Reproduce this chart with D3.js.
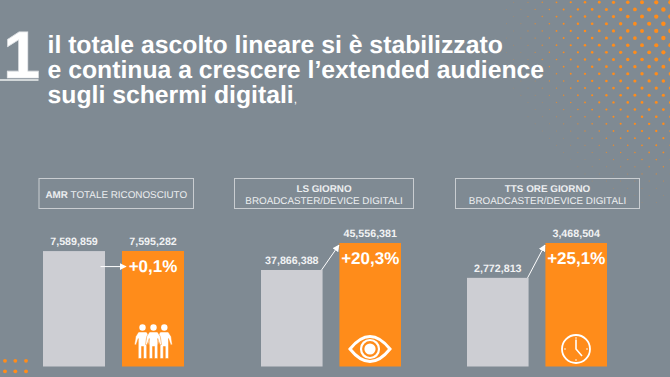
<!DOCTYPE html>
<html>
<head>
<meta charset="utf-8">
<script src="https://cdn.jsdelivr.net/npm/d3@7"></script>
<style>
  html, body { margin: 0; padding: 0; background: #7f8a93; }
  svg { display: block; }
  text { font-family: "Liberation Sans", Arial, sans-serif; text-rendering: geometricPrecision; }
</style>
</head>
<body>
<div id="chart"></div>
<script>
// values
const periods = ["prima", "dopo"]
const amrValues = [7589859, 7595282]
const lsValues = [37866388, 45556381]
const ttsValues = [2772813, 3468504]
const deltaLabels = ["+0,1%", "+20,3%", "+25,1%"]
const boxBold = ["AMR", "LS GIORNO", "TTS ORE GIORNO"]
const boxPlain = ["TOTALE RICONOSCIUTO", "BROADCASTER/DEVICE DIGITALI", "BROADCASTER/DEVICE DIGITALI"]
const titleLines = ["il totale ascolto lineare si è stabilizzato", "e continua a crescere l’extended audience", "sugli schermi digitali"]

const width = 670, height = 377
const orange = "#ff8c1a", grey = "#cdced3", white = "#ffffff", soft = "#f1f2f3", bg = "#7f8a93"

const svg = d3.select("#chart").append("svg")
    .attr("width", width)
    .attr("height", height)

svg.append("rect").attr("width", width).attr("height", height).attr("fill", bg)

// -----------------------------------------------------------------------------
// halftone top right, just decoration
const stepX = 14.25, stepY = 7.15
const halftone = []
for (let row = 0; row < 34; row++) {
  for (let col = 0; col < 16; col++) {
    const x = 670.5 - col * stepX - (row % 2 ? 7.1 : 0)
    const y = 2.3 + row * stepY
    const d = Math.hypot(x - 690, y - 20)
    const r = 2.6 * (1 - d / 205)
    if (r > 0.2) halftone.push({x: x, y: y, r: r})
  }
}
svg.append("g").selectAll("circle").data(halftone).join("circle")
    .attr("cx", d => d.x)
    .attr("cy", d => d.y)
    .attr("r", d => Math.max(d.r, 0.45))
    .attr("fill", orange)
    .attr("opacity", d => Math.min(1, 0.2 + d.r * 0.8))

// bottom left dots
const cornerX = [5, 15.3, 26], cornerY = [360.8, 371.3]
cornerY.forEach(y => cornerX.forEach(x => {
  svg.append("circle").attr("cx", x).attr("cy", y).attr("r", 1.9).attr("fill", orange)
}))

// -----------------------------------------------------------------------------
// title
svg.append("text")
    .attr("x", 3).attr("y", 78)
    .attr("font-size", 67).attr("font-weight", "bold")
    .attr("fill", white).attr("stroke", "#dfe2e5").attr("stroke-width", 0.6)
    .text("1")
svg.append("line")
    .attr("x1", 0).attr("x2", 38.5).attr("y1", 80).attr("y2", 80)
    .attr("stroke", "#eef0f1").attr("stroke-width", 1.6)

const titleText = svg.append("text")
    .attr("font-size", 24.75).attr("font-weight", "bold")
    .attr("fill", white)
titleText.selectAll("tspan.line").data(titleLines).join("tspan")
    .attr("class", "line")
    .attr("x", 47.5)
    .attr("y", (d, i) => 53 + i * 25)
    .text(d => d)
titleText.append("tspan").attr("font-size", 12).attr("font-weight", "normal").text(",")

// -----------------------------------------------------------------------------
// panels
const axisBottom = 366.5
const panels = [
  {values: amrValues, domain: [0, 7595282], top: 251, x: [43, 184], box: [39, 193.5]},
  {values: lsValues, domain: [10370000, 45556381], top: 243, x: [261, 401], box: [234.5, 413.5]},
  {values: ttsValues, domain: [1003000, 3468504], top: 243, x: [467, 607], box: [455.5, 639.5]}
]

svg.append("defs").append("marker")
    .attr("id", "head")
    .attr("viewBox", "0 0 10 10")
    .attr("refX", 9).attr("refY", 5)
    .attr("markerWidth", 7).attr("markerHeight", 7)
    .attr("markerUnits", "userSpaceOnUse")
    .attr("orient", "auto")
  .append("path")
    .attr("d", "M0,0L10,5L0,10z")
    .attr("fill", white)

panels.forEach((p, i) => {
  const g = svg.append("g")

  const x = d3.scaleBand().domain(periods).range(p.x).paddingInner(0.215).paddingOuter(0)
  const y = d3.scaleLinear().domain(p.domain).range([axisBottom, p.top])

  g.selectAll("rect.bar").data(p.values).join("rect")
      .attr("class", "bar")
      .attr("x", (d, j) => x(periods[j]))
      .attr("y", d => y(d))
      .attr("width", x.bandwidth())
      .attr("height", d => axisBottom - y(d))
      .attr("fill", (d, j) => j == 0 ? grey : orange)

  g.selectAll("text.val").data(p.values).join("text")
      .attr("class", "val")
      .attr("x", (d, j) => x(periods[j]) + x.bandwidth() / 2)
      .attr("y", d => y(d) - 6)
      .attr("text-anchor", "middle")
      .attr("font-size", 10.7).attr("font-weight", "bold")
      .attr("fill", soft)
      .text(d => d3.format(",")(d))

  // arrow from grey bar to orange bar
  const greyRight = x(periods[0]) + x.bandwidth()
  const orangeLeft = x(periods[1])
  const a = i == 0
    ? {x1: greyRight - 4.5, y1: y(p.values[0]) + 15.5, x2: orangeLeft + 4, y2: y(p.values[0]) + 15.5}
    : {x1: greyRight - 1, y1: y(p.values[0]), x2: orangeLeft - 0.5, y2: y(p.values[1]) + 2}
  g.append("line")
      .attr("x1", a.x1).attr("y1", a.y1).attr("x2", a.x2).attr("y2", a.y2)
      .attr("stroke", white).attr("stroke-width", 1)
      .attr("marker-end", "url(#head)")

  g.append("text")
      .attr("x", x(periods[1]) + x.bandwidth() / 2)
      .attr("y", i == 0 ? 272 : 264)
      .attr("text-anchor", "middle")
      .attr("font-size", 17).attr("font-weight", "bold")
      .attr("fill", white)
      .text(deltaLabels[i])

  // legend box
  g.append("rect")
      .attr("x", p.box[0]).attr("y", 178.5)
      .attr("width", p.box[1] - p.box[0]).attr("height", 30)
      .attr("fill", "none").attr("stroke", "#c9cdd1").attr("stroke-width", 1)

  const boxMid = (p.box[0] + p.box[1]) / 2
  if (i == 0) {
    const t = g.append("text")
        .attr("x", boxMid).attr("y", 197.5)
        .attr("text-anchor", "middle").attr("font-size", 9.85).attr("fill", "#eceef0")
    t.append("tspan").attr("font-weight", "bold").text(boxBold[i] + " ")
    t.append("tspan").text(boxPlain[i])
  } else {
    g.append("text")
        .attr("x", boxMid).attr("y", 191.5)
        .attr("text-anchor", "middle").attr("font-size", 9.85).attr("font-weight", "bold")
        .attr("fill", "#eceef0").text(boxBold[i])
    g.append("text")
        .attr("x", boxMid).attr("y", 203.5)
        .attr("text-anchor", "middle").attr("font-size", 9.85)
        .attr("fill", "#eceef0").text(boxPlain[i])
  }
})

// -----------------------------------------------------------------------------
// icons
function person(parent, cx, top) {
  const f = parent.append("g").attr("transform", "translate(" + cx + "," + top + ")").attr("fill", white)
  f.append("circle").attr("cx", 0).attr("cy", 3).attr("r", 3.2)
  f.append("path").attr("d", "M-4,7.5H4L6.8,12L8,20L6.5,20.5L4.2,14V34H1V22H-1V34H-4.2V14L-6.5,20.5L-8,20L-6.8,12Z")
      .attr("stroke", orange).attr("stroke-width", 0.5)
}
const people = svg.append("g")
;[142.5, 164.3, 153.5].forEach(cx => person(people, cx, 324.5))

const eye = svg.append("g").attr("transform", "translate(370,349)")
eye.append("path")
    .attr("d", "M-20,0Q0,-25 20,0Q0,25 -20,0Z")
    .attr("fill", orange).attr("stroke", white).attr("stroke-width", 3)
eye.append("circle").attr("r", 9).attr("fill", "none").attr("stroke", white).attr("stroke-width", 2.2)
eye.append("circle").attr("r", 5.6).attr("fill", white)

const clock = svg.append("g").attr("transform", "translate(576,349)")
clock.append("circle").attr("r", 14).attr("fill", "none").attr("stroke", white).attr("stroke-width", 1.8)
clock.append("path").attr("d", "M0,-9.5V0L6,7").attr("fill", "none").attr("stroke", white).attr("stroke-width", 1.6)
;[[0, -11], [11, 0], [0, 11], [-11, 0]].forEach(t => {
  clock.append("circle").attr("cx", t[0]).attr("cy", t[1]).attr("r", 0.8).attr("fill", white)
})
</script>
</body>
</html>
